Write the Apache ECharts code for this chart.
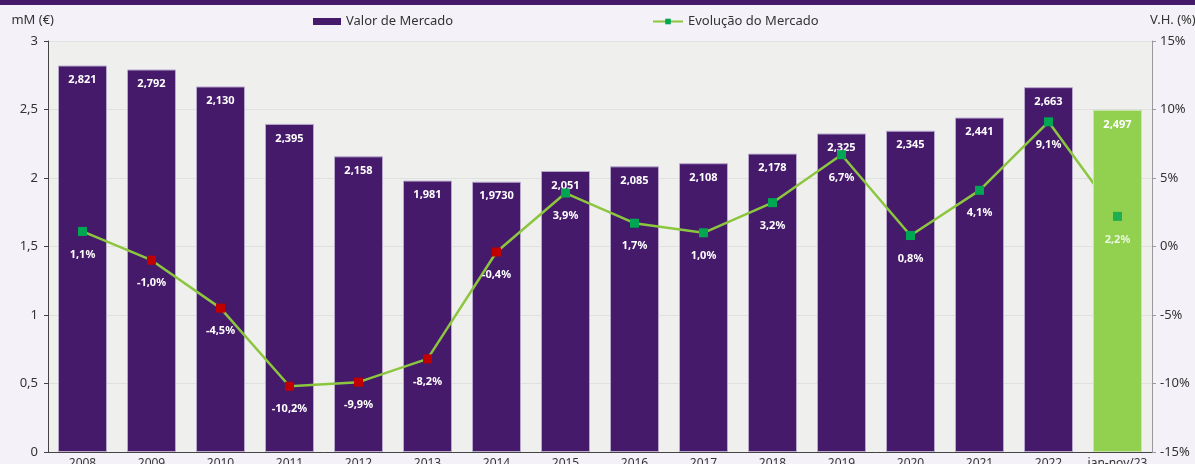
<!DOCTYPE html>
<html>
<head>
<meta charset="utf-8">
<script src="https://cdn.jsdelivr.net/npm/echarts@6/dist/echarts.min.js"></script>
<style>
  html, body { margin: 0; padding: 0; background: #f4f2f8; }
  #top-bar { height: 5px; background: #461a6b; }
  #chart { width: 1195px; height: 459px; }
</style>
</head>
<body>
<div id="top-bar"></div>
<div id="chart"></div>
<script>
var categories = ['2008', '2009', '2010', '2011', '2012', '2013', '2014', '2015',
    '2016', '2017', '2018', '2019', '2020', '2021', '2022', 'jan-nov/23'];

// bar heights (mM €)
var marketValue = [2.821, 2.792, 2.668, 2.395, 2.158, 1.981, 1.973, 2.051,
    2.085, 2.108, 2.178, 2.325, 2.345, 2.441, 2.663, 2.497];

// labels as printed on the bars
var marketLabels = ['2,821', '2,792', '2,130', '2,395', '2,158', '1,981', '1,9730', '2,051',
    '2,085', '2,108', '2,178', '2,325', '2,345', '2,441', '2,663', '2,497'];

// year-on-year change (%)
var marketChange = [1.1, -1.0, -4.5, -10.2, -9.9, -8.2, -0.4, 3.9,
    1.7, 1.0, 3.2, 6.7, 0.8, 4.1, 9.1, 2.2];

var leftTicks = ['0', '0,5', '1', '1,5', '2', '2,5', '3'];

var purple = '#461a6b';
var lightGreen = '#92d050';
var lineGreen = '#8cc63f';
var posGreen = '#00a651';
var negRed = '#c00000';
var font = 'Noto Sans';

var last = categories.length - 1;

var fmtPct = function (v) {
    return v.toFixed(1).replace('.', ',') + '%';
};

var purpleData = marketValue.map(function (v, i) { return i === last ? '-' : v; });
var greenData = marketValue.map(function (v, i) { return i === last ? v : '-'; });

var lineData = marketChange.map(function (v, i) {
    return {
        value: v,
        itemStyle: { color: v < 0 ? negRed : posGreen },
        label: { show: i !== last }
    };
});

var lastPoint = marketChange.map(function (v, i) { return i === last ? v : '-'; });

var barLabel = {
    show: true,
    position: 'insideTop',
    distance: 9,
    color: '#fff',
    fontFamily: font,
    fontWeight: 'bold',
    fontSize: 11,
    formatter: function (p) { return marketLabels[p.dataIndex]; }
};

var pctLabel = {
    show: true,
    position: 'bottom',
    distance: 13,
    color: '#fff',
    fontFamily: font,
    fontWeight: 'bold',
    fontSize: 11,
    formatter: function (p) { return fmtPct(p.value); }
};

var myChart = echarts.init(document.getElementById('chart'));

option = {
    backgroundColor: '#f4f2f8',
    textStyle: { fontFamily: font },
    animation: false,
    legend: [{
        left: 313,
        top: 10,
        padding: 0,
        itemWidth: 28,
        itemHeight: 7,
        icon: 'rect',
        itemStyle: { borderWidth: 0 },
        textStyle: { color: '#333', fontSize: 13, fontFamily: font },
        data: ['Valor de Mercado']
    }, {
        left: 652,
        top: 10,
        padding: 0,
        itemWidth: 30,
        itemHeight: 7,
        textStyle: { color: '#333', fontSize: 13, fontFamily: font },
        data: ['Evolução do Mercado']
    }],
    grid: {
        left: 48,
        right: 43,
        top: 36,
        bottom: 12,
        outerBoundsMode: 'none',
        containLabel: false,
        show: true,
        backgroundColor: '#eff0ee',
        borderWidth: 0
    },
    xAxis: {
        type: 'category',
        data: categories,
        axisLine: { lineStyle: { color: '#444' } },
        axisTick: { inside: true, length: 5, lineStyle: { color: '#444' } },
        axisLabel: { color: '#333', fontSize: 12, margin: 6, interval: 0 }
    },
    yAxis: [{
        type: 'value',
        min: 0,
        max: 3,
        interval: 0.5,
        name: 'mM (€)',
        nameLocation: 'end',
        nameGap: 14,
        nameTextStyle: { color: '#333', fontSize: 13, align: 'right', padding: [0, -6, 0, 0] },
        axisLine: { show: true, lineStyle: { color: '#444' } },
        axisTick: { show: true, length: 4, lineStyle: { color: '#444' } },
        axisLabel: {
            color: '#333',
            fontSize: 13,
            margin: 10,
            formatter: function (v) { return leftTicks[Math.round(v * 2)]; }
        },
        splitLine: { lineStyle: { color: '#e0e0df' } }
    }, {
        type: 'value',
        min: -15,
        max: 15,
        interval: 5,
        name: 'V.H. (%)',
        nameLocation: 'end',
        nameGap: 14,
        nameTextStyle: { color: '#333', fontSize: 13, align: 'left', padding: [0, 0, 0, -2] },
        axisLine: { show: true, lineStyle: { color: '#999' } },
        axisTick: { show: true, length: 4, lineStyle: { color: '#999' } },
        axisLabel: {
            color: '#333',
            fontSize: 13,
            margin: 8,
            formatter: function (v) { return v + '%'; }
        },
        splitLine: { show: false }
    }],
    series: [
        {
            name: 'Valor de Mercado',
            type: 'bar',
            data: purpleData,
            barWidth: 49,
            z: 1,
            itemStyle: { color: purple, borderColor: '#b8a8cc', borderWidth: 1 },
            label: barLabel
        },
        {
            name: 'jan-nov',
            type: 'bar',
            data: greenData,
            barWidth: 49,
            barGap: '-100%',
            z: 5,
            itemStyle: { color: lightGreen, borderColor: '#c8e4a8', borderWidth: 1 },
            label: barLabel
        },
        {
            name: 'Evolução do Mercado',
            type: 'line',
            yAxisIndex: 1,
            data: lineData,
            z: 3,
            symbol: 'rect',
            symbolSize: 9,
            lineStyle: { color: lineGreen, width: 2.5 },
            itemStyle: { color: posGreen },
            label: pctLabel
        },
        {
            name: 'ultimo',
            type: 'scatter',
            yAxisIndex: 1,
            data: lastPoint,
            z: 8,
            symbol: 'rect',
            symbolSize: 9,
            itemStyle: { color: posGreen },
            label: pctLabel
        }
    ]
};

myChart.setOption(option);
</script>
</body>
</html>
